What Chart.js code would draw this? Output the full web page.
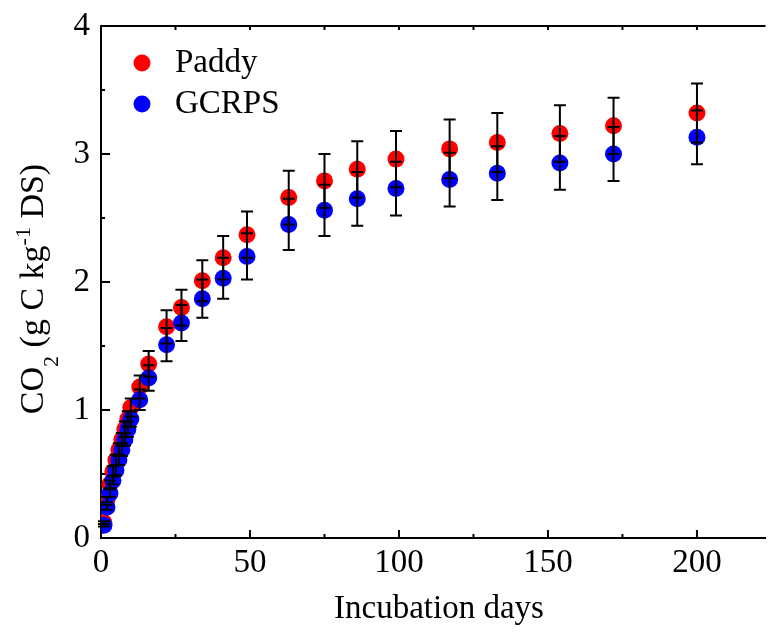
<!DOCTYPE html>
<html>
<head>
<meta charset="utf-8">
<title>CO2 incubation</title>
<script src="https://cdn.jsdelivr.net/npm/chart.js@4"></script>
<style>
  html, body { margin: 0; padding: 0; background: #fff; overflow: hidden; }
</style>
</head>
<body>
<canvas id="chart" width="774" height="632"></canvas>
<script>
// incubation days
const days = [1, 2, 3, 4, 5, 6, 7, 8, 9, 10, 13, 16, 22, 27, 34, 41, 49, 63, 75, 86, 99, 117, 133, 154, 172, 200];

// cumulative CO2 (g C kg-1 DS)
const paddy = [0.12, 0.30, 0.42, 0.52, 0.61, 0.69, 0.77, 0.85, 0.93, 1.02, 1.18, 1.36, 1.65, 1.80, 2.01, 2.19, 2.37, 2.66, 2.79, 2.88, 2.96, 3.04, 3.09, 3.16, 3.22, 3.32];
const paddyErr = [0.01, 0.02, 0.03, 0.04, 0.04, 0.05, 0.05, 0.06, 0.06, 0.07, 0.09, 0.10, 0.13, 0.14, 0.16, 0.17, 0.18, 0.21, 0.21, 0.22, 0.22, 0.23, 0.23, 0.22, 0.22, 0.23];
const gcrps = [0.10, 0.24, 0.35, 0.45, 0.53, 0.61, 0.69, 0.77, 0.85, 0.93, 1.08, 1.25, 1.51, 1.68, 1.87, 2.03, 2.20, 2.45, 2.56, 2.65, 2.73, 2.80, 2.85, 2.93, 3.00, 3.13];
const gcrpsErr = [0.01, 0.02, 0.03, 0.03, 0.04, 0.04, 0.05, 0.05, 0.06, 0.06, 0.08, 0.10, 0.13, 0.14, 0.15, 0.16, 0.18, 0.20, 0.20, 0.21, 0.21, 0.21, 0.21, 0.21, 0.21, 0.21];

const seriesNames = ["Paddy", "GCRPS"];
const xTicks = [0, 50, 100, 150, 200];
const xMinor = [25, 75, 125, 175];
const yTicks = [0, 1, 2, 3, 4];
const yMinor = [0.5, 1.5, 2.5, 3.5];

const serif = "'Liberation Serif', 'Times New Roman', serif";

function pts(ys) {
  return days.map((d, i) => ({ x: d, y: ys[i] }));
}

function noPad(s) {
  s.paddingLeft = 0; s.paddingRight = 0; s.paddingTop = 0; s.paddingBottom = 0;
}

// error bars, ticks, legend and axis titles
const extras = {
  id: "extras",
  afterDatasetsDraw(chart) {
    const ctx = chart.ctx;
    const x = chart.scales.x, y = chart.scales.y;
    ctx.save();
    ctx.strokeStyle = "#000";
    ctx.lineWidth = 2;
    [[paddy, paddyErr], [gcrps, gcrpsErr]].forEach(([vals, errs]) => {
      vals.forEach((v, i) => {
        const px = x.getPixelForValue(days[i]);
        const top = y.getPixelForValue(v + errs[i]);
        const bot = y.getPixelForValue(v - errs[i]);
        ctx.beginPath();
        ctx.moveTo(px, top); ctx.lineTo(px, bot);
        ctx.moveTo(px - 6, top); ctx.lineTo(px + 6, top);
        ctx.moveTo(px - 6, bot); ctx.lineTo(px + 6, bot);
        ctx.stroke();
      });
    });
    ctx.restore();
  },
  afterDraw(chart) {
    const ctx = chart.ctx;
    const x = chart.scales.x, y = chart.scales.y;
    const a = chart.chartArea;
    ctx.save();
    ctx.strokeStyle = "#000";
    ctx.lineWidth = 2;
    ctx.beginPath();
    // top frame line
    ctx.moveTo(a.left - 1, a.top); ctx.lineTo(a.right, a.top);
    // inward ticks
    xTicks.forEach(v => {
      const p = x.getPixelForValue(v);
      ctx.moveTo(p, a.bottom); ctx.lineTo(p, a.bottom - 8);
      ctx.moveTo(p, a.top); ctx.lineTo(p, a.top + 4);
    });
    xMinor.forEach(v => {
      const p = x.getPixelForValue(v);
      ctx.moveTo(p, a.bottom); ctx.lineTo(p, a.bottom - 4);
      ctx.moveTo(p, a.top); ctx.lineTo(p, a.top + 4);
    });
    yTicks.forEach(v => {
      const p = y.getPixelForValue(v);
      ctx.moveTo(a.left, p); ctx.lineTo(a.left + 9, p);
    });
    yMinor.forEach(v => {
      const p = y.getPixelForValue(v);
      ctx.moveTo(a.left, p); ctx.lineTo(a.left + 4, p);
    });
    ctx.stroke();

    // legend
    ctx.fillStyle = "#000";
    ctx.font = "33px " + serif;
    ctx.textBaseline = "alphabetic";
    chart.data.datasets.forEach((ds, i) => {
      const cy = 63 + i * 41;
      ctx.fillStyle = ds.backgroundColor;
      ctx.beginPath();
      ctx.arc(142, cy, 8.5, 0, Math.PI * 2);
      ctx.fill();
      ctx.fillStyle = "#000";
      ctx.fillText(ds.label, 175, cy + 9);
    });

    // x title
    ctx.textAlign = "center";
    ctx.fillText("Incubation days", 439, 618);

    // y title with sub- and superscript
    const parts = [
      { t: "CO", s: 34, dy: 0 },
      { t: "2", s: 22, dy: 15 },
      { t: " (g C kg", s: 34, dy: 0 },
      { t: "-1", s: 22, dy: -13 },
      { t: " DS)", s: 34, dy: 0 }
    ];
    let total = 0;
    parts.forEach(p => { ctx.font = p.s + "px " + serif; p.w = ctx.measureText(p.t).width; total += p.w; });
    ctx.translate(43, 289);
    ctx.rotate(-Math.PI / 2);
    ctx.textAlign = "left";
    let cx = -total / 2;
    parts.forEach(p => {
      ctx.font = p.s + "px " + serif;
      ctx.fillText(p.t, cx, p.dy);
      cx += p.w;
    });
    ctx.restore();
  }
};

new Chart(document.getElementById("chart").getContext("2d"), {
  type: "scatter",
  data: {
    datasets: [
      {
        label: seriesNames[0],
        data: pts(paddy),
        backgroundColor: "#ff0000",
        borderWidth: 0,
        pointRadius: 8.5,
        pointHoverRadius: 8.5,
        order: 2
      },
      {
        label: seriesNames[1],
        data: pts(gcrps),
        backgroundColor: "#0000ff",
        borderWidth: 0,
        pointRadius: 8.5,
        pointHoverRadius: 8.5,
        order: 1
      }
    ]
  },
  options: {
    responsive: false,
    animation: false,
    layout: { padding: { top: 26, right: 0, left: 0, bottom: 0 } },
    plugins: { legend: { display: false }, tooltip: { enabled: false } },
    scales: {
      x: {
        type: "linear",
        min: 0,
        max: 223,
        afterFit: s => { s.height = 94; noPad(s); },
        afterBuildTicks: s => { s.ticks = xTicks.map(v => ({ value: v })); },
        ticks: { font: { family: serif, size: 33 }, color: "#000", padding: 6, maxRotation: 0, includeBounds: false },
        grid: { display: false, drawTicks: false },
        border: { display: true, color: "#000", width: 2 }
      },
      y: {
        min: 0,
        max: 4,
        afterFit: s => { s.width = 101; noPad(s); },
        afterBuildTicks: s => { s.ticks = yTicks.map(v => ({ value: v })); },
        ticks: { font: { family: serif, size: 33 }, color: "#000", padding: 11 },
        grid: { display: false, drawTicks: false },
        border: { display: true, color: "#000", width: 2 }
      }
    }
  },
  plugins: [extras]
});
</script>
</body>
</html>
